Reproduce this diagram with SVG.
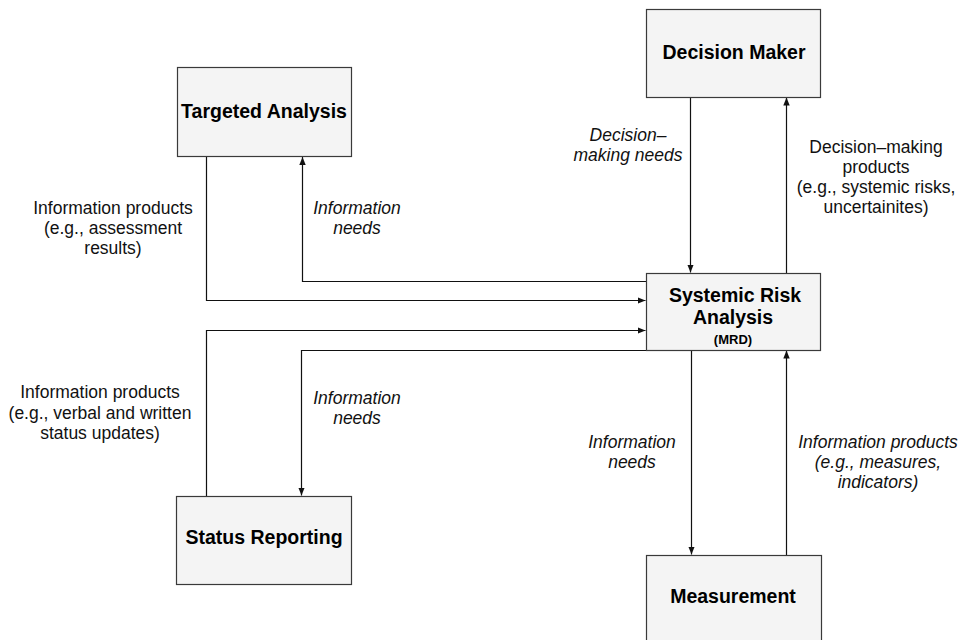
<svg xmlns="http://www.w3.org/2000/svg" width="959" height="640" viewBox="0 0 959 640">
<style>
.box{fill:#f4f4f4;stroke:#3a3a3a;stroke-width:1.2}
.title{font-family:"Liberation Sans",Arial,sans-serif;font-weight:bold;font-size:19.5px;fill:#000;text-anchor:middle}
.small{font-family:"Liberation Sans",Arial,sans-serif;font-weight:bold;font-size:13px;fill:#000;text-anchor:middle}
.lbl{font-family:"Liberation Sans",Arial,sans-serif;font-size:17.5px;fill:#111;text-anchor:middle}
.it{font-style:italic}
.edge{fill:none;stroke:#111;stroke-width:1.2;marker-end:url(#arr)}
</style>
<defs>
<marker id="arr" viewBox="0 0 10 10" refX="10" refY="5" markerWidth="8" markerHeight="8" markerUnits="userSpaceOnUse" orient="auto">
<path d="M0,1 L10,5 L0,9 Z" fill="#111"/>
</marker>
</defs>
<rect width="959" height="640" fill="#fff"/>
<g id="connectors">
<path class="edge" d="M206.5,156 V300.5 H645.5"/>
<path class="edge" d="M646,281.5 H302.5 V157"/>
<path class="edge" d="M206.5,496 V330.5 H645.5"/>
<path class="edge" d="M646,350.5 H301.5 V495.5"/>
<path class="edge" d="M690.5,97 V272.5"/>
<path class="edge" d="M786.5,273 V97.5"/>
<path class="edge" d="M691.5,350 V554.5"/>
<path class="edge" d="M786.5,555 V350.5"/>
</g>
<g id="decision-maker">
<rect class="box" x="646.5" y="9.5" width="174" height="88"/>
<text class="title" x="734" y="59">Decision Maker</text>
</g>
<g id="targeted-analysis">
<rect class="box" x="177.5" y="67.5" width="174" height="89"/>
<text class="title" x="264" y="117.5">Targeted Analysis</text>
</g>
<g id="systemic-risk-analysis">
<rect class="box" x="646.5" y="273.5" width="174" height="77"/>
<text class="title" x="735" y="302">Systemic Risk</text>
<text class="title" x="733" y="324">Analysis</text>
<text class="small" x="733" y="344">(MRD)</text>
</g>
<g id="status-reporting">
<rect class="box" x="176.5" y="496.5" width="175" height="88"/>
<text class="title" x="264" y="544">Status Reporting</text>
</g>
<g id="measurement">
<rect class="box" x="646.5" y="555.5" width="175" height="95"/>
<text class="title" x="733" y="603">Measurement</text>
</g>
<g id="labels">
<text class="lbl"><tspan x="113" y="214">Information products</tspan><tspan x="113" y="234">(e.g., assessment</tspan><tspan x="113" y="254">results)</tspan></text>
<text class="lbl it"><tspan x="357" y="214">Information</tspan><tspan x="357" y="234">needs</tspan></text>
<text class="lbl it"><tspan x="628" y="141">Decision–</tspan><tspan x="628" y="161">making needs</tspan></text>
<text class="lbl"><tspan x="876" y="153">Decision–making</tspan><tspan x="876" y="173">products</tspan><tspan x="876" y="193">(e.g., systemic risks,</tspan><tspan x="876" y="213">uncertainites)</tspan></text>
<text class="lbl"><tspan x="100" y="398">Information products</tspan><tspan x="100" y="419">(e.g., verbal and written</tspan><tspan x="100" y="439">status updates)</tspan></text>
<text class="lbl it"><tspan x="357" y="404">Information</tspan><tspan x="357" y="424">needs</tspan></text>
<text class="lbl it"><tspan x="632" y="448">Information</tspan><tspan x="632" y="468">needs</tspan></text>
<text class="lbl it"><tspan x="878" y="448">Information products</tspan><tspan x="878" y="468">(e.g., measures,</tspan><tspan x="878" y="488">indicators)</tspan></text>
</g>
</svg>
